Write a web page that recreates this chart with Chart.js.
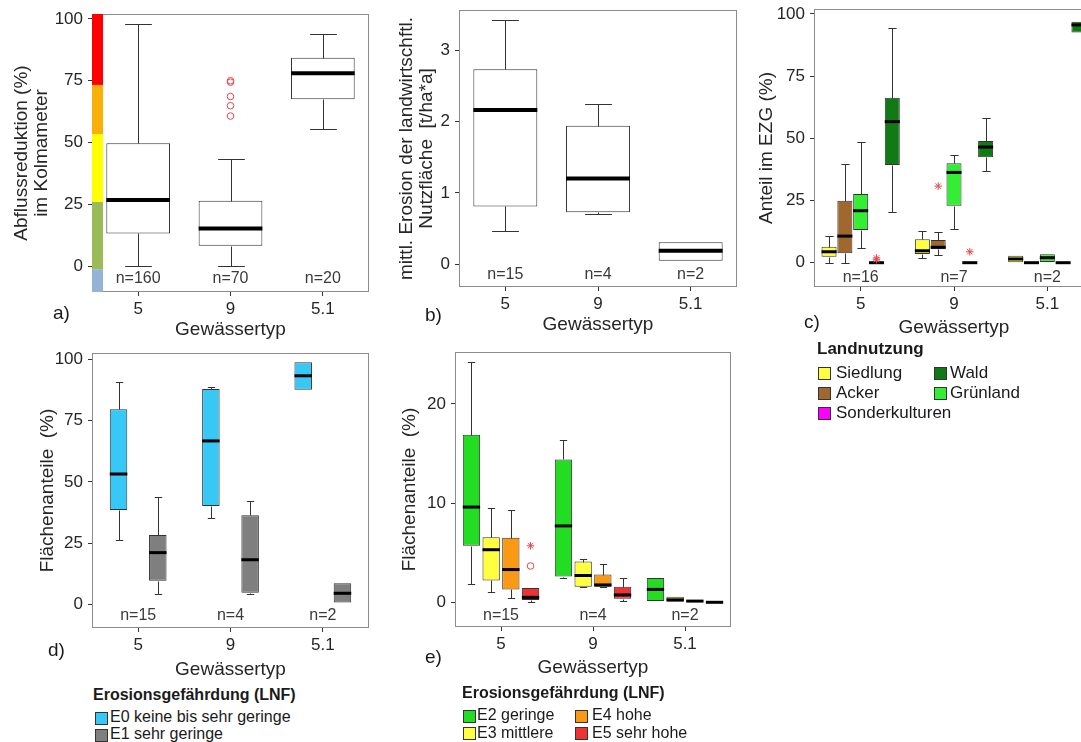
<!DOCTYPE html>
<html><head><meta charset="utf-8">
<script src="https://cdn.jsdelivr.net/npm/chart.js@4.4.0/dist/chart.umd.min.js"></script>
<style>
body{margin:0;width:1081px;height:742px;overflow:hidden;background:#fff;position:relative;font-family:'Liberation Sans',Arial,sans-serif;color:#1a1a1a}
canvas{position:absolute}
.t{position:absolute;white-space:pre;line-height:1}
.key{position:absolute;box-sizing:border-box;border:1px solid #333}
</style></head><body>
<canvas id="ca" width="375" height="340" style="left:0;top:0"></canvas>
<canvas id="cb" width="365" height="340" style="left:375px;top:0"></canvas>
<canvas id="cc" width="360" height="340" style="left:740px;top:0"></canvas>
<canvas id="cd" width="375" height="340" style="left:0;top:340px"></canvas>
<canvas id="ce" width="365" height="340" style="left:375px;top:340px"></canvas>
<script>
// ---------------- DATA ----------------
const categories = ['5','9','5.1'];
const nLabelsA = ['n=160','n=70','n=20'];
const nLabelsB = ['n=15','n=4','n=2'];
const nLabelsC = ['n=16','n=7','n=2'];
const nLabelsD = ['n=15','n=4','n=2'];
const nLabelsE = ['n=15','n=4','n=2'];

// each entry: [min, q1, median, q3, max] per category
const abfluss = [[0,13.2,26.7,49.7,98],[0,8.2,15.2,26.4,43.2],[55.3,67.5,78,84.3,93.8]];
const abflussOut = [[],[75,74.4,68.6,64.9,60.7],[]];
const stripBreaks = [-10.5,-1.3,26,53.4,73.3,102];
const stripColors = ['#95B3D7','#9BBB59','#FFFF00','#F9B10A','#FF0000'];

const erosion = [[0.47,0.81,2.16,2.73,3.42],[0.71,0.73,1.2,1.94,2.25],[0.05,0.05,0.19,0.31,0.31]];

const siedlung = [[0,2.4,4.4,6.4,10.7],[2,3.5,4.8,9.4,12.7],[0,0,1.5,2.8,2.8]];
const acker = [[0,3.8,10.7,24.9,39.6],[3,5.4,6.2,9.1,12.2],[0,0,0,0,0]];
const gruenland = [[5.8,13.1,20.9,27.6,48.5],[13.4,22.9,36.3,40,43.2],[0.3,0.3,2,3.4,3.4]];
const sonderkulturen = [[0,0,0,0,0],[0,0,0,0,0],[0,0,0,0,0]];
const wald = [[20.4,39.3,56.7,66.3,94.5],[37,42.4,46.5,48.9,58.3],[92.6,92.6,95.6,96.9,96.9]];
const ackerOut = [[],[30.8],[]];
const sonderOut = [[1.2,1.9],[4.4],[]];

const e0 = [[26.2,38.5,53.2,79.6,90.6],[35.1,40.1,66.7,87.9,88.6],[87.6,87.6,93.3,98.8,98.8]];
const e1 = [[4.1,9.6,21.1,28.3,43.7],[4.1,4.7,18.2,36.4,42.3],[0.7,0.7,4.5,8.6,8.6]];

const e2 = [[1.8,5.7,9.6,16.9,24.2],[2.45,2.6,7.7,14.4,16.4],[0.13,0.13,1.3,2.45,2.45]];
const e3 = [[1.0,2.2,5.3,6.55,9.5],[1.5,1.57,2.7,4.1,4.4],[0,0,0.25,0.57,0.57]];
const e4 = [[0.4,1.3,3.3,6.5,9.3],[1.5,1.57,1.75,2.8,3.9],[0.05,0.05,0.12,0.2,0.2]];
const e5 = [[0,0.23,0.5,1.45,1.45],[0.16,0.36,0.74,1.57,2.4],[0,0,0,0,0]];
const e5OutStar = [[5.7],[],[]];
const e5OutCircle = [[3.66],[],[]];

const ticksPct = [0,25,50,75,100];
const ticksB = [0,1,2,3];
const ticksE = [0,10,20];

// ---------------- STYLE ----------------
const FONT = "'Liberation Sans', Arial, sans-serif";
const col = {siedlung:'#FFFF40', acker:'#A0672E', gruen:'#33EE33', sonder:'#FF00FF', wald:'#107A14',
  e0:'#38C8F5', e1:'#7F7F7F', e2:'#22DD22', e3:'#FFFF40', e4:'#FA9A14', e5:'#EE3333', out:'#E8474B'};

const boxPlugin = {
  id:'boxExtras',
  beforeDatasetsDraw(chart, args, o){
    const {ctx, chartArea:a} = chart; const y = chart.scales.y;
    ctx.save();
    ctx.strokeStyle='#8c8c8c'; ctx.lineWidth=1;
    ctx.strokeRect(Math.round(a.left)+0.5, Math.round(a.top)+0.5, Math.round(a.right-a.left)-1, Math.round(a.bottom-a.top)-1);
    if (o.strip){
      for (let i=0;i<o.strip.colors.length;i++){
        const y0=y.getPixelForValue(o.strip.breaks[i]), y1=y.getPixelForValue(o.strip.breaks[i+1]);
        ctx.fillStyle=o.strip.colors[i];
        ctx.fillRect(a.left, y1, o.strip.width, y0-y1);
      }
    }
    ctx.restore();
  },
  afterDatasetsDraw(chart, args, o){
    const {ctx, chartArea:a} = chart; const y = chart.scales.y, x = chart.scales.x;
    ctx.save();
    chart.data.datasets.forEach((ds,di)=>{
      const meta = chart.getDatasetMeta(di);
      meta.data.forEach((bar,i)=>{
        const s = ds.stats[i]; const cx = Math.round(bar.x)+0.5; const w = bar.width;
        const cap = w*o.cap/2;
        ctx.strokeStyle='#333'; ctx.lineWidth=1;
        const px = v=>Math.round(y.getPixelForValue(v))+0.5;
        ctx.beginPath();
        if (s[4]>s[3]){ ctx.moveTo(cx,px(s[3])); ctx.lineTo(cx,px(s[4])); ctx.moveTo(cx-cap,px(s[4])); ctx.lineTo(cx+cap,px(s[4])); }
        if (s[0]<s[1]){ ctx.moveTo(cx,px(s[1])); ctx.lineTo(cx,px(s[0])); ctx.moveTo(cx-cap,px(s[0])); ctx.lineTo(cx+cap,px(s[0])); }
        ctx.stroke();
        ctx.strokeStyle='#000'; ctx.lineWidth=o.medW;
        ctx.beginPath();
        const my = y.getPixelForValue(s[2]);
        ctx.moveTo(bar.x-w/2, my); ctx.lineTo(bar.x+w/2, my); ctx.stroke();
        const draw=(vals,style)=>{ (vals&&vals[i]||[]).forEach(v=>{
          ctx.strokeStyle=col.out; ctx.fillStyle='rgba(0,0,0,0)'; ctx.lineWidth=1;
          Chart.helpers.drawPoint(ctx,{pointStyle:style,radius:style==='circle'?3.3:3.8,borderWidth:1,rotation:0},bar.x,y.getPixelForValue(v));
        });};
        draw(ds.outCircle,'circle'); draw(ds.outStar,'star');
      });
    });
    ctx.fillStyle='#3a3a3a'; ctx.font='16px '+FONT; ctx.textAlign='center'; ctx.textBaseline='middle';
    (o.nLabels||[]).forEach((t,i)=>ctx.fillText(t, x.getPixelForTick(i), a.bottom-o.nOff));
    ctx.restore();
  }
};

function makeBoxChart(id, c){
  return new Chart(document.getElementById(id), {
    type:'bar',
    data:{labels:categories, datasets:c.series.map(s=>({
      label:s.label, data:s.stats.map(v=>[v[1],v[3]]), stats:s.stats, outCircle:s.outCircle, outStar:s.outStar,
      backgroundColor:s.color, borderColor:'#333', borderWidth:1, borderSkipped:false,
      categoryPercentage:c.cp, barPercentage:c.bp}))},
    options:{responsive:false, animation:false, devicePixelRatio:1,
      layout:{padding:{top:c.top,right:c.right,left:0,bottom:0}},
      plugins:{legend:{display:false}, tooltip:{enabled:false},
        boxExtras:{medW:c.medW, cap:c.cap, nLabels:c.n, nOff:c.nOff, strip:c.strip}},
      scales:{
        x:{grid:{offset:false, drawOnChartArea:false, drawTicks:true, tickLength:4, color:'#333'}, border:{display:false},
           ticks:{font:{size:17,family:FONT}, color:'#262626', padding:3},
           title:{display:true, text:'Gewässertyp', font:{size:19,family:FONT,lineHeight:1.05}, color:'#262626', padding:{top:0,bottom:c.xPad}},
           afterFit:s=>{s.height=c.xH; s.paddingLeft=0; s.paddingRight=0;}},
        y:{min:c.min, max:c.max,
           afterBuildTicks:s=>{s.ticks=c.ticks.map(v=>({value:v}));},
           grid:{drawOnChartArea:false, drawTicks:true, tickLength:4, color:'#333'}, border:{display:false},
           ticks:{font:{size:17,family:FONT}, color:'#262626', padding:5},
           title:{display:true, text:c.yTitle, font:{size:19,family:FONT,lineHeight:1.05}, color:'#262626', padding:{top:c.yPad,bottom:0}},
           afterFit:s=>{s.width=c.yW; s.paddingTop=0; s.paddingBottom=0;}}
      }},
    plugins:[boxPlugin]
  });
}

makeBoxChart('ca',{series:[{label:'Abflussreduktion',stats:abfluss,color:'#fff',outCircle:abflussOut}],
  cp:0.75,bp:0.92,top:14,right:6,yW:92,xH:48,xPad:0,yPad:12,min:-10.5,max:102,ticks:ticksPct,
  yTitle:['Abflussreduktion (%)','im Kolmameter'],medW:4,cap:0.42,n:nLabelsA,nOff:13,
  strip:{breaks:stripBreaks,colors:stripColors,width:11}});

makeBoxChart('cb',{series:[{label:'Erosion',stats:erosion,color:'#fff'}],
  cp:0.75,bp:0.92,top:10,right:3,yW:84,xH:53,xPad:5,yPad:22,min:-0.318,max:3.56,ticks:ticksB,
  yTitle:['mittl. Erosion der landwirtschftl.','Nutzfläche  [t/ha*a]'],medW:4,cap:0.42,n:nLabelsB,nOff:12});

makeBoxChart('cc',{series:[
  {label:'Siedlung',stats:siedlung,color:col.siedlung},
  {label:'Acker',stats:acker,color:col.acker,outStar:ackerOut},
  {label:'Grünland',stats:gruenland,color:col.gruen},
  {label:'Sonderkulturen',stats:sonderkulturen,color:col.sonder,outStar:sonderOut},
  {label:'Wald',stats:wald,color:col.wald}],
  cp:0.847,bp:0.95,top:9,right:6,yW:74,xH:53,xPad:2,yPad:17,min:-9.77,max:102,ticks:ticksPct,
  yTitle:'Anteil im EZG (%)',medW:3,cap:0.55,n:nLabelsC,nOff:9});

makeBoxChart('cd',{series:[
  {label:'E0 keine bis sehr geringe',stats:e0,color:col.e0},
  {label:'E1 sehr geringe',stats:e1,color:col.e1}],
  cp:0.85,bp:0.446,top:13,right:6,yW:92,xH:52,xPad:0,yPad:38,min:-9.67,max:102.6,ticks:ticksPct,
  yTitle:'Flächenanteile  (%)',medW:3,cap:0.42,n:nLabelsD,nOff:12});

makeBoxChart('ce',{series:[
  {label:'E2 geringe',stats:e2,color:col.e2},
  {label:'E3 mittlere',stats:e3,color:col.e3},
  {label:'E4 hohe',stats:e4,color:col.e4},
  {label:'E5 sehr hohe',stats:e5,color:col.e5,outStar:e5OutStar,outCircle:e5OutCircle}],
  cp:0.856,bp:0.88,top:12,right:9,yW:80,xH:53,xPad:2,yPad:25,min:-2.49,max:25.23,ticks:ticksE,
  yTitle:'Flächenanteile  (%)',medW:3,cap:0.42,n:nLabelsE,nOff:11});

// ---------------- TEXT / LEGENDS ----------------
function addText(txt,x,yc,size,bold){
  const d=document.createElement('div'); d.className='t'; d.textContent=txt;
  d.style.left=x+'px'; d.style.top=(yc-size*0.55)+'px'; d.style.fontSize=size+'px';
  if(bold) d.style.fontWeight='bold';
  document.body.appendChild(d);
}
function addKey(x,yc,sz,color){
  const d=document.createElement('div'); d.className='key';
  d.style.left=x+'px'; d.style.top=(yc-sz/2)+'px'; d.style.width=sz+'px'; d.style.height=sz+'px'; d.style.background=color;
  document.body.appendChild(d);
}
addText('a)',53,313,19); addText('b)',425,315,19); addText('c)',804,322,19);
addText('d)',48,650,19); addText('e)',425,657,19);

const legendCLabels = ['Siedlung','Wald','Acker','Grünland','Sonderkulturen'];
const legendCColors = [col.siedlung,col.wald,col.acker,col.gruen,col.sonder];
addText('Landnutzung',817,349,17,true);
legendCLabels.forEach((l,i)=>{const r=Math.floor(i/2), c=i%2; const yc=373+r*20.3;
  addKey(c?934:818,yc,13,legendCColors[i]); addText(l,c?950:836,yc,17);});

const legendDLabels = ['E0 keine bis sehr geringe','E1 sehr geringe'];
const legendDColors = [col.e0,col.e1];
addText('Erosionsgefährdung (LNF)',93,696,16,true);
legendDLabels.forEach((l,i)=>{const yc=718+i*17; addKey(95,yc,13,legendDColors[i]); addText(l,110,yc,16);});

const legendELabels = ['E2 geringe','E4 hohe','E3 mittlere','E5 sehr hohe'];
const legendEColors = [col.e2,col.e4,col.e3,col.e5];
addText('Erosionsgefährdung (LNF)',462,694,16,true);
legendELabels.forEach((l,i)=>{const r=Math.floor(i/2), c=i%2; const yc=716+r*17.5;
  addKey(c?575:463,yc,13,legendEColors[i]); addText(l,c?592:477,yc,16);});
</script>
</body></html>
